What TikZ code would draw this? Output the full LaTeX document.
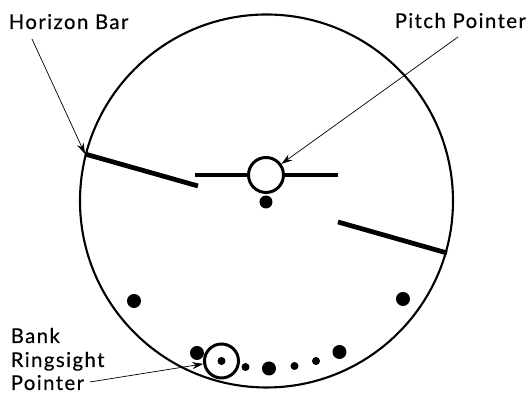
\documentclass[tikz,border=0pt]{standalone}
\usepackage{fontspec}
\setmainfont[LetterSpace=7,FakeBold=0.4]{Lato}
\usetikzlibrary{positioning,arrows.meta}

\tikzset{
  lbl/.style={font=\fontsize{5.8pt}{5.8pt}\selectfont, inner sep=0pt, anchor=base west},
  lead/.style={-{Stealth[length=0.11cm,width=0.07cm]}, line width=0.2pt},
  hbar/.style={line width=1.35pt},
  bigdot/.style={circle, fill=black, inner sep=0pt, minimum size=0.14cm},
  smalldot/.style={circle, fill=black, inner sep=0pt, minimum size=0.08cm},
  ring/.style={circle, draw, fill=white, line width=0.85pt, inner sep=0pt}
}

\begin{document}
\begin{tikzpicture}
  \useasboundingbox (0,0) rectangle (5.27,3.93);
  \node[circle, draw, line width=0.6pt, minimum size=3.73cm, inner sep=0pt] (dial) at (2.665,1.92) {};
  % horizon
  \coordinate (barAa) at (0.85,2.39);
  \coordinate (barAb) at (1.98,2.07);
  \coordinate (barBa) at (3.38,1.71);
  \coordinate (barBb) at (4.47,1.40);
  \draw[hbar] (barAa) -- (barAb);
  \draw[hbar] (barBa) -- (barBb);
  % pitch
  \coordinate (pitchL) at (1.95,2.18);
  \coordinate (pitchR) at (3.38,2.18);
  \draw[line width=1pt] (pitchL) -- (pitchR);
  \node[ring, minimum size=0.35cm] (pitchring) at (2.66,2.18) {};
  \node[bigdot, minimum size=0.13cm] (pitchdot) at (2.66,1.91) {};
  % bank scale
  \node[bigdot] (d1) at (1.34,0.92) {};
  \node[bigdot] (d2) at (4.03,0.94) {};
  \node[bigdot] (d3) at (1.97,0.40) {};
  \node[ring, minimum size=0.34cm] (bankring) at (2.215,0.32) {};
  \node[smalldot] (d4) at (2.215,0.32) {};
  \node[smalldot] (d5) at (2.455,0.26) {};
  \node[bigdot] (d6) at (2.69,0.245) {};
  \node[smalldot] (d7) at (2.945,0.27) {};
  \node[smalldot] (d8) at (3.16,0.32) {};
  \node[bigdot] (d9) at (3.395,0.41) {};
  % labels
  \node[lbl] (hlabel) at (0.08,3.64) {Horizon Bar};
  \node[lbl] (plabel) at (3.94,3.65) {Pitch Pointer};
  \node[lbl] (blabel1) at (0.10,0.50) {Bank};
  \node[lbl] (blabel2) at (0.10,0.26) {Ringsight};
  \node[lbl] (blabel3) at (0.10,0.03) {Pointer};
  \coordinate (htail) at (0.32,3.54);
  \coordinate (ptail) at (4.58,3.56);
  \coordinate (btail) at (0.90,0.11);
  \draw[lead] (htail) -- (barAa);
  \draw[lead] (ptail) -- (pitchring);
  \draw[lead] (btail) -- (bankring);
\end{tikzpicture}
\end{document}
